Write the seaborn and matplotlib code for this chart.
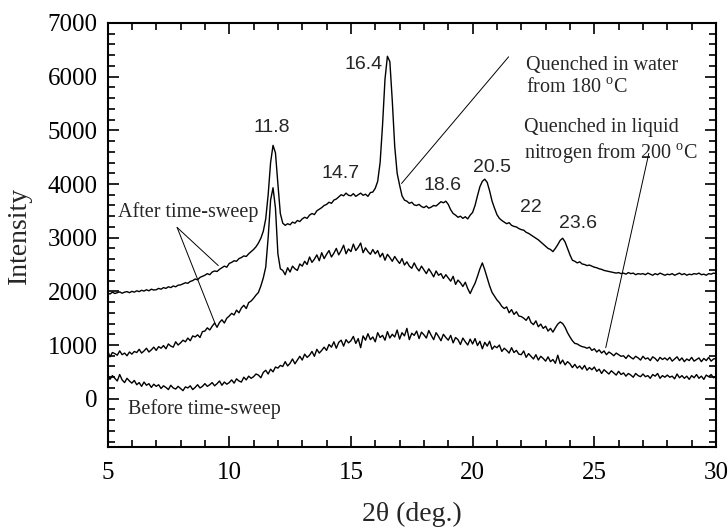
import numpy as np
import pandas as pd
import matplotlib
matplotlib.use("Agg")
import matplotlib.pyplot as plt
import seaborn as sns
from matplotlib.ticker import MultipleLocator

# 2-theta grid (deg.), 0.1 deg step
two_theta = np.round(np.arange(5.0, 30.05, 0.1), 1)

# after time-sweep, quenched in water from 180 C
water_180 = [
    1970, 1950, 1985, 1960, 1975, 1990, 1965, 1985, 1995, 1975,
    2000, 1985, 2010, 1995, 2020, 2005, 2030, 2010, 2040, 2025,
    2030, 2055, 2040, 2070, 2055, 2085, 2070, 2100, 2085, 2115,
    2120, 2140, 2160, 2150, 2185, 2200, 2230, 2215, 2260, 2280,
    2300, 2330, 2310, 2360, 2380, 2370, 2410, 2440, 2470, 2450,
    2520, 2540, 2570, 2560, 2610, 2630, 2660, 2650, 2700, 2740,
    2780, 2830, 2900, 2990, 3120, 3350, 3800, 4400, 4720, 4580,
    4000, 3450, 3270, 3230, 3260, 3240, 3290, 3270, 3320, 3300,
    3350, 3380, 3360, 3420, 3450, 3430, 3500, 3530, 3560, 3600,
    3620, 3660, 3640, 3700, 3720, 3760, 3800, 3780, 3830, 3790,
    3780, 3820, 3770, 3800, 3830, 3790, 3810, 3770, 3840, 3850,
    3920, 4050, 4400, 5100, 5950, 6380, 6280, 5550, 4700, 4200,
    3980, 3780, 3700, 3680, 3640, 3660, 3610, 3600, 3620, 3580,
    3560, 3590, 3550, 3570, 3600, 3590, 3630, 3670, 3650, 3680,
    3620, 3520, 3450, 3420, 3380, 3400, 3360, 3390, 3350, 3420,
    3470, 3600, 3780, 3950, 4050, 4090, 4030, 3870, 3680, 3550,
    3430, 3360, 3320, 3290, 3260, 3280, 3230, 3210, 3200, 3170,
    3150, 3140, 3100, 3080, 3050, 3020, 2990, 2960, 2920, 2880,
    2840, 2800, 2780, 2740, 2800, 2870, 2950, 2990, 2920, 2800,
    2680, 2580, 2560, 2530, 2550, 2510, 2500, 2480, 2490, 2470,
    2450, 2440, 2420, 2410, 2390, 2380, 2370, 2360, 2350, 2340,
    2350, 2330, 2340, 2320, 2350, 2330, 2340, 2310, 2330, 2320,
    2330, 2310, 2340, 2320, 2300, 2330, 2310, 2340, 2320, 2300,
    2320, 2310, 2330, 2300, 2320, 2340, 2310, 2330, 2300, 2320,
    2310, 2330, 2320, 2340, 2310, 2320, 2300, 2330, 2320, 2340,
    2330,
]

# after time-sweep, quenched in liquid nitrogen from 200 C
nitrogen_200 = [
    900, 780, 860, 840, 810, 890, 820, 850, 800, 870,
    830, 880, 860, 920, 850, 890, 940, 870, 910, 960,
    900, 970, 940, 990, 930, 1020, 980, 960, 1060, 1000,
    1040, 1090, 1060, 1130, 1080, 1170, 1150, 1190, 1140, 1250,
    1260, 1320, 1280, 1350, 1410, 1330, 1420, 1470, 1410, 1500,
    1540, 1590, 1560, 1650, 1600, 1690, 1740, 1680, 1790, 1820,
    1870, 1930, 1980, 2100, 2250, 2450, 3000, 3700, 3930, 3550,
    2700, 2420, 2390, 2310, 2440, 2360, 2470, 2420, 2390, 2510,
    2470, 2560, 2500, 2640, 2540, 2600, 2680, 2570, 2720, 2610,
    2690, 2760, 2640, 2710, 2800, 2680, 2760, 2860, 2700, 2790,
    2740, 2880, 2760, 2820, 2900, 2720, 2810, 2740, 2690, 2780,
    2700, 2760, 2640, 2710, 2580, 2690, 2630, 2560, 2650, 2580,
    2520, 2610, 2490, 2550, 2470, 2430, 2530, 2440, 2380, 2470,
    2400, 2330, 2420, 2350, 2270, 2380, 2300, 2330, 2240, 2310,
    2250, 2190, 2280, 2130, 2210, 2160, 2090, 2170, 2050, 1960,
    2060, 2150, 2280, 2420, 2530, 2400, 2250, 2100, 1980, 1910,
    1840, 1790, 1720, 1680, 1710, 1600, 1660, 1570, 1620, 1540,
    1530, 1500, 1460, 1530, 1420, 1380, 1450, 1340, 1390, 1310,
    1350, 1260, 1310, 1240, 1320, 1390, 1430, 1400, 1330, 1230,
    1150, 1080, 1030, 1020, 990, 970, 960, 940, 960, 900,
    930, 870, 910, 850, 890, 820, 870, 840, 800, 850,
    820, 790, 800, 750, 810, 770, 740, 790, 760, 720,
    790, 740, 760, 710, 780, 750, 700, 770, 730, 760,
    720, 770, 700, 740, 780, 710, 760, 690, 740, 710,
    770, 700, 730, 760, 690, 750, 710, 770, 700, 740,
    750,
]

# before time-sweep
before_sweep = [
    460, 360, 430, 380, 330, 450, 350, 300, 380, 330,
    290, 340, 260, 300, 230, 310, 250, 280, 210, 270,
    230, 260, 190, 240, 210, 170, 250, 200, 180, 230,
    190, 150, 220, 200, 240, 170, 210, 260, 200, 230,
    280, 230, 260, 300, 240, 280, 330, 250, 310, 270,
    300, 350, 290, 370, 330, 310, 400, 350, 420, 380,
    410, 460, 440, 390, 490, 530, 460, 550, 500, 590,
    570, 620, 600, 690, 610, 660, 740, 650, 720, 790,
    720, 830, 770, 810, 880, 790, 920, 850, 900, 960,
    900, 1010, 960, 1060, 940, 1050, 1090, 980, 1100, 1040,
    1080, 1160, 1030, 1120, 950, 1170, 1090, 1210, 1100, 1150,
    1060, 1230, 1140, 1180, 1090, 1250, 1130, 1200, 1150, 1280,
    1110, 1230, 1170, 1310, 1100, 1220, 1180, 1260, 1120, 1240,
    1190, 1130, 1270, 1180, 1100, 1230, 1160, 1080, 1200, 1140,
    1090, 1180, 1040, 1140, 1100, 1010, 1130, 1060, 1000, 1110,
    1020, 1120, 990, 1070, 930, 1050, 980, 1070, 920, 980,
    950, 1000, 880, 940, 900, 850, 950, 860, 900, 830,
    820, 890, 770, 840, 790, 740, 820, 720, 790, 750,
    700, 780, 690, 730, 660, 810, 650, 720, 630, 690,
    650, 580, 640, 570, 610, 550, 620, 530, 580, 540,
    590, 510, 550, 470, 540, 500, 460, 520, 480, 440,
    510, 450, 480, 420, 470, 440, 400, 470, 430, 410,
    460, 410, 430, 380, 450, 420, 470, 380, 430, 400,
    440, 400, 420, 370, 460, 390, 430, 380, 420, 360,
    430, 390, 450, 380, 420, 360, 440, 410, 450, 390,
    420,
]

peak_labels = ["11.8", "14.7", "16.4", "18.6", "20.5", "22", "23.6"]

df = pd.DataFrame({
    "two_theta": two_theta,
    "water": water_180,
    "nitrogen": nitrogen_200,
    "before": before_sweep,
})

sns.set_theme(style="ticks")
plt.rcParams["font.family"] = ["Liberation Serif", "DejaVu Serif"]
plt.rcParams["mathtext.fontset"] = "custom"
plt.rcParams["mathtext.rm"] = "Liberation Serif"

fig = plt.figure(figsize=(7.28, 5.31), dpi=100)
ax = fig.add_axes([0.1477, 0.1582, 0.8358, 0.7985])

for col in ["water", "nitrogen", "before"]:
    sns.lineplot(data=df, x="two_theta", y=col, ax=ax, color="black",
                 linewidth=1.0, legend=False)

ax.set_xlim(5, 30)
ax.set_ylim(-900, 7000)
ax.xaxis.set_major_locator(MultipleLocator(5))
ax.xaxis.set_minor_locator(MultipleLocator(1))
ax.yaxis.set_major_locator(MultipleLocator(1000))
ax.yaxis.set_minor_locator(MultipleLocator(200))
ax.tick_params(which="both", direction="in", top=True, right=True,
               width=1.2, colors="black", labelsize=18)
ax.tick_params(which="major", length=8)
ax.tick_params(which="minor", length=5)
ax.tick_params(axis="x", pad=11)
ax.tick_params(axis="y", pad=7)
for s in ax.spines.values():
    s.set_linewidth(1.5)
    s.set_color("black")

ax.set_xlabel("2\u03b8 (deg.)", fontsize=20)
ax.set_ylabel("Intensity", fontsize=20)
ax.xaxis.set_label_coords(0.5, -0.13)
ax.yaxis.set_label_coords(-0.125, 0.5)

# peak positions
label_xy = [(11.73, 5060), (14.57, 4200), (15.51, 6235), (18.76, 3980),
            (20.78, 4310), (22.39, 3570), (24.32, 3270)]
for txt, (px, py) in zip(peak_labels, label_xy):
    ax.text(px, py, txt, ha="center", va="center", fontsize=14,
            family=["Liberation Sans", "DejaVu Sans"])

ax.text(22.18, 6000, "Quenched in water\nfrom 180 $^{\\mathrm{o}}$C",
        ha="left", va="center", fontsize=14.5, linespacing=1.2)
ax.text(22.1, 4790, "Quenched in liquid\nnitrogen from 200 $^{\\mathrm{o}}$C",
        ha="left", va="center", fontsize=14.5, linespacing=1.2)
ax.text(5.43, 3470, "After time-sweep", ha="left", va="center", fontsize=14.5)
ax.text(5.84, -190, "Before time-sweep", ha="left", va="center", fontsize=14.5)

lead = dict(arrowstyle="-", lw=0.7, color="black", shrinkA=0, shrinkB=0)
ax.annotate("", xy=(9.55, 2480), xytext=(7.86, 3190), arrowprops=lead)
ax.annotate("", xy=(9.42, 1400), xytext=(7.86, 3190), arrowprops=lead)
ax.annotate("", xy=(17.08, 4010), xytext=(21.48, 6370), arrowprops=lead)
ax.annotate("", xy=(25.47, 950), xytext=(27.24, 4570), arrowprops=lead)

fig.savefig("out.png", dpi=100)
